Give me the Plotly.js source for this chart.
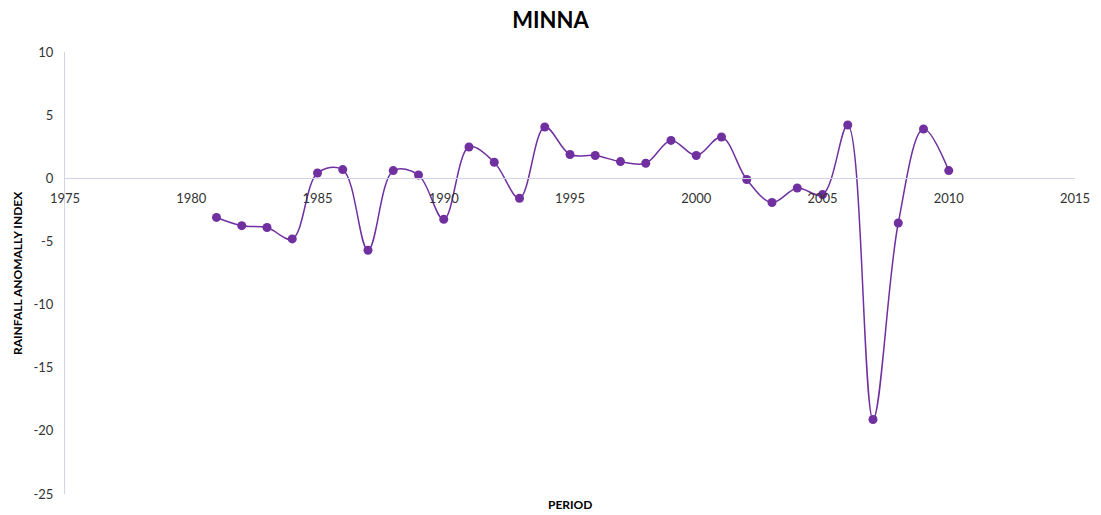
<!DOCTYPE html>
<html>
<head>
<meta charset="utf-8">
<script src="https://cdn.plot.ly/plotly-3.0.1.min.js"></script>
<style>html,body{margin:0;padding:0;background:#fff;}#chart{width:1101px;height:515px;}</style>
</head>
<body>
<div id="chart"></div>
<script>
const years = [1981,1982,1983,1984,1985,1986,1987,1988,1989,1990,1991,1992,1993,1994,1995,1996,1997,1998,1999,2000,2001,2002,2003,2004,2005,2006,2007,2008,2009,2010];
const raiValues = [-3.1,-3.75,-3.9,-4.8,0.42,0.69,-5.7,0.61,0.26,-3.25,2.48,1.27,-1.58,4.06,1.88,1.8,1.32,1.19,3.0,1.8,3.27,-0.1,-1.92,-0.77,-1.29,4.22,-19.1,-3.54,3.9,0.61];
const xTicks = [1975,1980,1985,1990,1995,2000,2005,2010,2015];
const yTicks = [10,5,0,-5,-10,-15,-20,-25];
const chartTitle = "MINNA";
const xTitle = "PERIOD";
const yTitle = "RAINFALL ANOMALLY INDEX";

const FONT = "Lato, 'Open Sans', sans-serif";
const purple = "#7030A0";
const axisCol = "#d0d4e6";

const trace = {
  x: years, y: raiValues, type: "scatter", mode: "lines+markers",
  line: {color: purple, width: 1.5, shape: "spline", smoothing: 1},
  marker: {color: purple, size: 9},
  cliponaxis: false, hoverinfo: "x+y"
};

const layout = {
  width: 1101, height: 515,
  margin: {l: 65, r: 26, t: 52, b: 21},
  paper_bgcolor: "#fff", plot_bgcolor: "#fff",
  font: {family: FONT, size: 13, color: "#404040"},
  showlegend: false,
  title: {text: chartTitle, font: {family: FONT, size: 22, color: "#000", weight: "bold"}, x: 0.5, xanchor: "center", y: 1 - 20/515, yref: "container", yanchor: "middle"},
  xaxis: {
    range: [1975, 2015], tickvals: xTicks, ticktext: xTicks.map(String),
    showgrid: false, zeroline: false, showline: true, linecolor: axisCol, linewidth: 1,
    anchor: "free", position: 316/442,
    ticks: "outside", ticklen: 8, tickcolor: "rgba(0,0,0,0)",
    tickfont: {family: FONT, size: 13, color: "#333333"}
  },
  yaxis: {
    range: [-25, 10], tickvals: yTicks, ticktext: yTicks.map(String),
    showgrid: false, zeroline: false, showline: true, linecolor: axisCol, linewidth: 1,
    ticks: "outside", ticklen: 8, tickcolor: "rgba(0,0,0,0)",
    tickfont: {family: FONT, size: 13, color: "#333333"}
  },
  annotations: [
    {text: xTitle, xref: "paper", yref: "paper", x: 0.5, y: -(505-494)/442, xanchor: "center", yanchor: "middle", showarrow: false, font: {family: FONT, size: 12, color: "#000", weight: "bold"}},
    {text: yTitle, xref: "paper", yref: "paper", x: -(65-17)/1010, y: 0.5, xanchor: "center", yanchor: "middle", textangle: -90, showarrow: false, font: {family: FONT, size: 12, color: "#000", weight: "bold"}}
  ]
};

Plotly.newPlot("chart", [trace], layout, {staticPlot: true, displayModeBar: false});
</script>
</body>
</html>
